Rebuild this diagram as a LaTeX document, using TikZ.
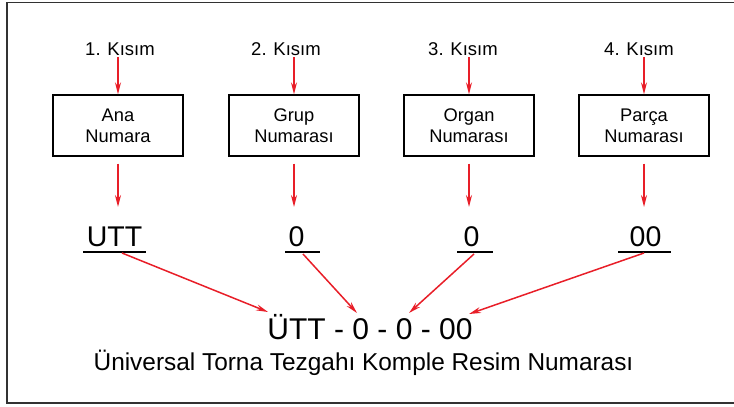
\documentclass[tikz,border=0pt]{standalone}
\usepackage{fontspec}
\setmainfont{Liberation Sans}
\usetikzlibrary{arrows.meta}
\definecolor{arrred}{RGB}{232,30,40}
\definecolor{framegray}{RGB}{50,50,50}
\begin{document}
\begin{tikzpicture}[x=1pt,y=-1pt,
  kisim/.style={font=\fontsize{18.5}{22}\selectfont, anchor=base, inner sep=0pt},
  box/.style={draw=black, line width=1.3pt, minimum width=130pt, minimum height=61pt,
              align=center, font=\fontsize{18.3}{21}\selectfont, inner sep=0pt},
  num/.style={font=\fontsize{28.5}{30}\selectfont, anchor=base, inner sep=0pt},
  arr/.style={draw=arrred, line width=1.5pt, -{Stealth[length=12pt,width=6pt]}},
  uline/.style={draw=black, line width=1.2pt}
]
\useasboundingbox (0,0) rectangle (734,407);
\draw[framegray, line width=1.5pt] (734,2.5) -- (7,2.5) -- (7,403) -- (734,403);

% part labels
\node[kisim] (k1) at (120,55) {1. Kısım};
\node[kisim] (k2) at (286,55) {2. Kısım};
\node[kisim] (k3) at (463,55) {3. Kısım};
\node[kisim] (k4) at (639,55) {4. Kısım};

% boxes
\node[box] (b1) at (118,125.5) {Ana\\Numara};
\node[box] (b2) at (294,125.5) {Grup\\Numarası};
\node[box] (b3) at (469,125.5) {Organ\\Numarası};
\node[box] (b4) at (644,125.5) {Parça\\Numarası};

\foreach \i in {1,2,3,4}{
  \draw[arr] ([yshift=-2pt]k\i.south -| b\i.north) -- (b\i.north);
}

% numbers
\node[num] (n1) at (114.5,246) {UTT};
\node[num] (n2) at (296.5,246) {0};
\node[num] (n3) at (471.5,246) {0};
\node[num] (n4) at (645.5,246) {00};

\coordinate (t1) at (118,207);
\coordinate (t2) at (294,207);
\coordinate (t3) at (469,207);
\coordinate (t4) at (644,207);
\foreach \i in {1,2,3,4}{
  \draw[arr] ([yshift=-7pt]b\i.south) -- (t\i);
}

% underlines
\coordinate (u1a) at (83,252);  \coordinate (u1b) at (146,252);
\coordinate (u2a) at (285,252); \coordinate (u2b) at (320,252);
\coordinate (u3a) at (457,252); \coordinate (u3b) at (493,252);
\coordinate (u4a) at (618,252); \coordinate (u4b) at (671,252);
\foreach \i in {1,2,3,4}{
  \draw[uline] (u\i a) -- (u\i b);
}

% final
\node[font=\fontsize{30}{32}\selectfont, anchor=base, inner sep=0pt] (fin) at (370,339) {ÜTT - 0 - 0 - 00};
\node[font=\fontsize{24.4}{26}\selectfont, anchor=base, inner sep=0pt] (sub) at (363.5,370) {Üniversal Torna Tezgahı Komple Resim Numarası};

\coordinate (s1) at (122,253); \coordinate (e1) at (268,312);
\coordinate (s2) at (303,254); \coordinate (e2) at (357,313);
\coordinate (s3) at (474,254); \coordinate (e3) at (409,313);
\coordinate (s4) at (644,253); \coordinate (e4) at (469,314);
\foreach \i in {1,2,3,4}{
  \draw[arr] (s\i) -- (e\i);
}
\end{tikzpicture}
\end{document}
